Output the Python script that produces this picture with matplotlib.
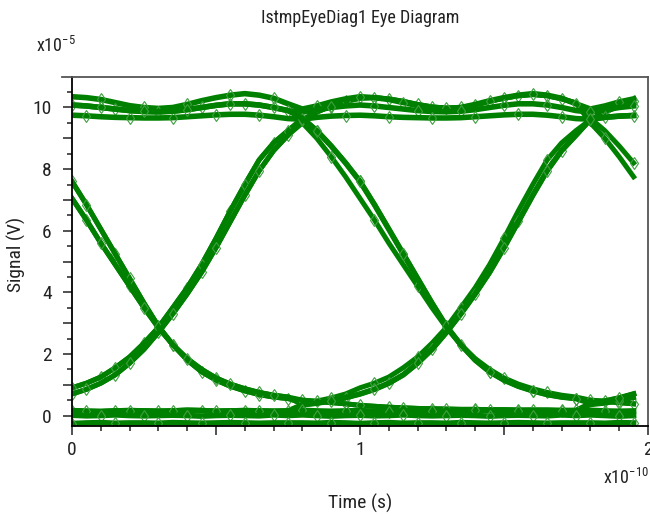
"""Eye diagram recreation (IstmpEyeDiag1)"""
import matplotlib
matplotlib.use('Agg')
import matplotlib.pyplot as plt
import matplotlib.font_manager as fm
from matplotlib.ticker import MultipleLocator, FuncFormatter
from matplotlib.lines import Line2D
import numpy as np

# pick a narrow sans if one is installed, else plain Liberation Sans
narrow = [f for f in fm.fontManager.ttflist
          if f.style == 'normal' and f.weight in (400, 'normal', 'regular')
          and ('Narrow' in f.name or 'Condensed' in f.name
               or f.stretch in ('condensed', 'semi-condensed', 'extra-condensed', 400, 300))]
narrow.sort(key=lambda f: (0 if 'Liberation' in f.name else 1 if 'Roboto' in f.name else 2, f.name))
if narrow:
    FAM = narrow[0].name
    plt.rcParams['font.stretch'] = narrow[0].stretch
else:
    FAM = 'Liberation Sans'
plt.rcParams['font.family'] = [FAM, 'Liberation Sans', 'DejaVu Sans']
plt.rcParams['mathtext.fontset'] = 'custom'
plt.rcParams['mathtext.rm'] = FAM
plt.rcParams['mathtext.default'] = 'regular'

# one unit interval, phase -0.2 .. 0.75 step 0.05 (time in 1e-10 s, signal in 1e-5 V)
FALL_1 = [9.65, 9.25, 8.75, 8.2, 7.6, 6.85, 6.05, 5.25, 4.45, 3.65, 2.9, 2.3, 1.8, 1.42, 1.15, 0.95, 0.8, 0.68, 0.6, 0.55]
FALL_2 = [9.5, 9.0, 8.4, 7.75, 7.05, 6.35, 5.6, 4.9, 4.2, 3.5, 2.85, 2.3, 1.85, 1.5, 1.22, 1.02, 0.87, 0.75, 0.66, 0.6]
RISE_1 = [0.4, 0.47, 0.57, 0.7, 0.9, 1.05, 1.25, 1.55, 1.9, 2.35, 2.86, 3.5, 4.15, 4.9, 5.75, 6.65, 7.5, 8.3, 8.85, 9.25]
RISE_2 = [0.35, 0.4, 0.48, 0.58, 0.7, 0.85, 1.05, 1.32, 1.7, 2.15, 2.7, 3.3, 3.95, 4.65, 5.45, 6.3, 7.15, 7.95, 8.6, 9.1]
RISE_TOP = [9.6, 9.85, 10.05, 10.2, 10.3, 10.32, 10.28, 10.2, 10.1, 10.02, 9.98, 10.0, 10.08, 10.2, 10.3, 10.38, 10.42, 10.38, 10.28, 10.15]
HIGH_TOP = [9.95, 10.05, 10.18, 10.28, 10.35, 10.32, 10.26, 10.16, 10.06, 10.0, 9.97, 10.0, 10.1, 10.22, 10.32, 10.4, 10.45, 10.4, 10.3, 10.12]
HIGH_MID = [9.85, 9.92, 10.0, 10.05, 10.08, 10.05, 10.0, 9.95, 9.9, 9.87, 9.86, 9.88, 9.93, 10.0, 10.07, 10.12, 10.12, 10.08, 10.0, 9.9]
HIGH_LOW = [9.62, 9.68, 9.72, 9.74, 9.75, 9.73, 9.7, 9.68, 9.67, 9.66, 9.66, 9.67, 9.7, 9.73, 9.76, 9.78, 9.78, 9.75, 9.7, 9.64]
FALL_TAIL = [0.5, 0.46, 0.42, 0.38, 0.33, 0.3, 0.27, 0.25, 0.23, 0.22, 0.21, 0.2, 0.2, 0.19, 0.19, 0.18, 0.18, 0.18, 0.17, 0.17]
LOW_TOP = [0.17, 0.15, 0.14, 0.15, 0.16, 0.14, 0.13, 0.15, 0.16, 0.15, 0.14, 0.15, 0.17, 0.16, 0.14, 0.15, 0.16, 0.15, 0.14, 0.15]
LOW_MID = [0.02, 0.0, -0.02, 0.0, 0.01, -0.01, 0.0, 0.02, 0.0, -0.01, 0.0, 0.01, 0.0, -0.02, 0.0, 0.01, 0.0, -0.01, 0.02, 0.0]
LOW_BOT = [-0.24, -0.25, -0.23, -0.24, -0.26, -0.24, -0.23, -0.25, -0.24, -0.24, -0.25, -0.23, -0.24, -0.25, -0.24, -0.23, -0.24, -0.25, -0.24, -0.24]

SEGS = dict(FALL_1=FALL_1, FALL_2=FALL_2, RISE_1=RISE_1, RISE_2=RISE_2, RISE_TOP=RISE_TOP,
            HIGH_TOP=HIGH_TOP, HIGH_MID=HIGH_MID, HIGH_LOW=HIGH_LOW, FALL_TAIL=FALL_TAIL,
            LOW_TOP=LOW_TOP, LOW_MID=LOW_MID, LOW_BOT=LOW_BOT)

# bit paths: (first UI tail, full UI, start of next UI)
TRACES = [
    ('FALL_1', 'RISE_1', 'RISE_TOP'),
    ('FALL_2', 'RISE_2', 'RISE_TOP'),
    ('RISE_1', 'FALL_1', 'FALL_TAIL'),
    ('RISE_2', 'FALL_2', 'FALL_TAIL'),
    ('FALL_1', 'FALL_TAIL', 'RISE_1'),
    ('FALL_2', 'FALL_TAIL', 'RISE_2'),
    ('RISE_1', 'RISE_TOP', 'FALL_1'),
    ('RISE_2', 'RISE_TOP', 'FALL_2'),
    ('HIGH_TOP', 'HIGH_TOP', 'HIGH_TOP'),
    ('HIGH_MID', 'HIGH_MID', 'HIGH_MID'),
    ('HIGH_LOW', 'HIGH_LOW', 'HIGH_LOW'),
    ('HIGH_MID', 'FALL_1', 'RISE_1'),
    ('LOW_TOP', 'RISE_2', 'HIGH_LOW'),
    ('LOW_TOP', 'LOW_TOP', 'LOW_TOP'),
    ('LOW_MID', 'LOW_MID', 'LOW_MID'),
    ('LOW_BOT', 'LOW_BOT', 'LOW_BOT'),
]

t = np.arange(40) * 0.05
green = '#008000'
txt = '#222222'

fig = plt.figure(figsize=(6.5, 5.16), dpi=100)
ax = fig.add_axes([72/650, 1-426/516, 576/650, 349/516])

for i, (a, b, c) in enumerate(TRACES):
    y = np.concatenate([SEGS[a][4:], SEGS[b], SEGS[c][:4]])
    lw = 4.0 if a.startswith('LOW') or a.startswith('HIGH') else 3.6
    ax.plot(t, y, '-', color=green, linewidth=lw, marker='d', markersize=6.5,
            mfc='none', mec='#3f9f3f', mew=0.8, markevery=(i % 3, 3), solid_joinstyle='round')

ax.set_xlim(0, 2)
ax.set_ylim(-0.34, 10.99)
ax.xaxis.set_major_locator(MultipleLocator(0.5))
ax.xaxis.set_minor_locator(MultipleLocator(0.1))
ax.yaxis.set_major_locator(MultipleLocator(1))
ax.yaxis.set_minor_locator(MultipleLocator(0.5))
ax.xaxis.set_major_formatter(FuncFormatter(lambda v, p: f'{v:.0f}' if abs(v - round(v)) < 1e-6 else ''))
ax.yaxis.set_major_formatter(FuncFormatter(lambda v, p: f'{v:.0f}' if round(v) % 2 == 0 else ''))
ax.tick_params(which='major', direction='out', length=6.5, width=1.1, labelsize=14, colors=txt)
ax.tick_params(axis='y', which='major', pad=8)
ax.tick_params(axis='x', which='major', pad=4)
ax.tick_params(which='minor', direction='out', length=3.5, width=1.1, colors=txt)
ax.tick_params(top=False, right=False, which='both')
for s in ['left', 'bottom']:
    ax.spines[s].set_color('black'); ax.spines[s].set_linewidth(1.3)
for s in ['top', 'right']:
    ax.spines[s].set_color('#555555'); ax.spines[s].set_linewidth(1.3)
ax.add_line(Line2D([-0.017, 0], [1, 1], transform=ax.transAxes, color='#555555', lw=1.3, clip_on=False))

fig.text(0.5538, 1-18/516, 'IstmpEyeDiag1 Eye Diagram', ha='center', va='center', fontsize=13, color=txt)
fig.text(36/650, 1-46/516, r'x10$^{-5}$', ha='left', va='center', fontsize=13, color=txt)
fig.text(649/650, 1-478/516, r'x10$^{-10}$', ha='right', va='center', fontsize=13, color=txt)
fig.text(0.5538, 1-503/516, 'Time (s)', ha='center', va='center', fontsize=14, color=txt)
fig.text(16/650, 1-254/516, 'Signal (V)', ha='center', va='center', rotation=90, fontsize=14, color=txt)

plt.savefig('out.png', dpi=100)
plt.close()
